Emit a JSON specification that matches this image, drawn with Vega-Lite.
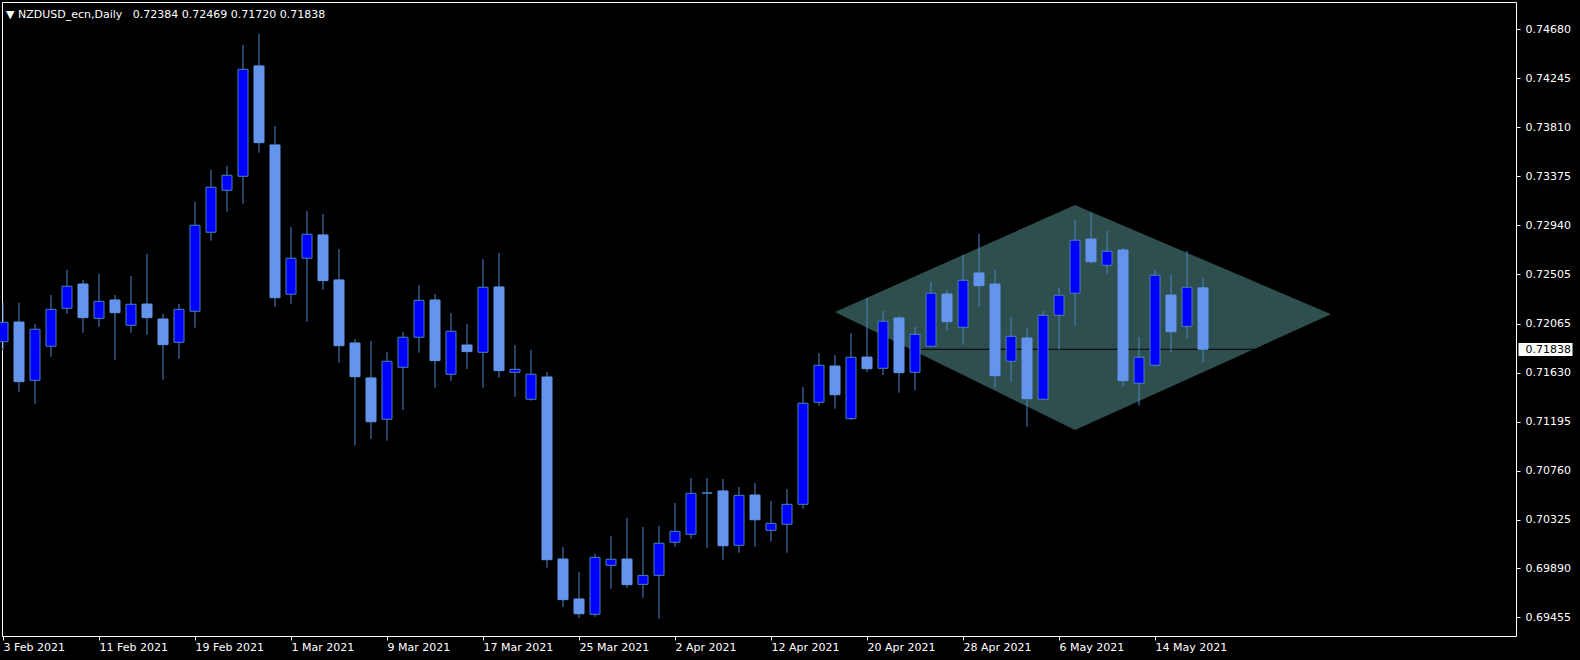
{
  "$schema": "https://vega.github.io/schema/vega-lite/v6.json",
  "width": 1514,
  "height": 634,
  "autosize": {"type": "none"},
  "padding": {"left": 2, "top": 2, "right": 64, "bottom": 24},
  "background": "#000000",
  "title": {
    "text": "▼ NZDUSD_ecn,Daily\u00a0\u00a0 0.72384 0.72469 0.71720 0.71838",
    "anchor": "start",
    "frame": "group",
    "orient": "top",
    "offset": -15,
    "dx": 4,
    "dy": 12,
    "baseline": "alphabetic",
    "color": "#ffffff",
    "font": "DejaVu Sans",
    "fontSize": 11,
    "fontWeight": "normal"
  },
  "config": {
    "view": {"stroke": "#ffffff", "strokeWidth": 1},
    "axis": {"labelFont": "DejaVu Sans", "labelFontSize": 11}
  },
  "resolve": {"scale": {"y": "shared", "x": "shared"}, "axis": {"y": "independent"}},
  "layer": [
    {
      "data": {"values": [
        {"date": "2021-04-16", "top": 0.72169, "bottom": 0.72169},
        {"date": "2021-05-07", "top": 0.73120, "bottom": 0.71121},
        {"date": "2021-05-31", "top": 0.72149, "bottom": 0.72149}
      ]},
      "mark": {"type": "area", "color": "#2f4f4f", "opacity": 1, "interpolate": "linear"},
      "encoding": {
        "x": {"field": "date", "type": "ordinal",
          "scale": {"type": "point", "padding": 0.3125, "align": 0.1, "domain": ["2021-02-03","2021-02-04","2021-02-05","2021-02-08","2021-02-09","2021-02-10","2021-02-11","2021-02-12","2021-02-15","2021-02-16","2021-02-17","2021-02-18","2021-02-19","2021-02-22","2021-02-23","2021-02-24","2021-02-25","2021-02-26","2021-03-01","2021-03-02","2021-03-03","2021-03-04","2021-03-05","2021-03-08","2021-03-09","2021-03-10","2021-03-11","2021-03-12","2021-03-15","2021-03-16","2021-03-17","2021-03-18","2021-03-19","2021-03-22","2021-03-23","2021-03-24","2021-03-25","2021-03-26","2021-03-29","2021-03-30","2021-03-31","2021-04-01","2021-04-02","2021-04-05","2021-04-06","2021-04-07","2021-04-08","2021-04-09","2021-04-12","2021-04-13","2021-04-14","2021-04-15","2021-04-16","2021-04-19","2021-04-20","2021-04-21","2021-04-22","2021-04-23","2021-04-26","2021-04-27","2021-04-28","2021-04-29","2021-04-30","2021-05-03","2021-05-04","2021-05-05","2021-05-06","2021-05-07","2021-05-10","2021-05-11","2021-05-12","2021-05-13","2021-05-14","2021-05-17","2021-05-18","2021-05-19","2021-05-20","2021-05-21","2021-05-24","2021-05-25","2021-05-26","2021-05-27","2021-05-28","2021-05-31","2021-06-01","2021-06-02","2021-06-03","2021-06-04","2021-06-07","2021-06-08","2021-06-09","2021-06-10","2021-06-11","2021-06-14","2021-06-15"]},
          "axis": {"values": ["2021-02-03","2021-02-11","2021-02-19","2021-03-01","2021-03-09","2021-03-17","2021-03-25","2021-04-02","2021-04-12","2021-04-20","2021-04-28","2021-05-06","2021-05-14"],
            "labelExpr": "utcFormat(toDate(datum.value), '%-d %b %Y')",
            "labelAlign": "left", "labelBaseline": "top", "labelPadding": 1, "labelAngle": 0,
            "tickSize": 4, "tickColor": "#ffffff", "labelColor": "#ffffff",
            "labelOverlap": false, "labelBound": false, "labelFlush": false,
            "domain": false, "grid": false, "title": null}
        },
        "y": {"field": "top", "type": "quantitative", "scale": {"domain": [0.6929, 0.74924], "zero": false, "nice": false},
          "axis": {"orient": "right", "values": [0.69455, 0.6989, 0.70325, 0.7076, 0.71195, 0.7163, 0.72065, 0.72505, 0.7294, 0.73375, 0.7381, 0.74245, 0.7468],
            "format": ".5f", "tickSize": 4, "tickColor": "#ffffff", "labelColor": "#ffffff",
            "labelPadding": 5, "labelAlign": "left", "labelBaseline": "middle",
            "labelOverlap": false, "labelBound": false, "labelFlush": false,
            "domain": false, "grid": false, "title": null}
        },
        "y2": {"field": "bottom"}
      }
    },
    {
      "data": {"values": [{"bid": 0.71838}]},
      "mark": {"type": "rule", "color": "#000000", "strokeWidth": 1},
      "encoding": {
        "y": {"field": "bid", "type": "quantitative", "scale": {"domain": [0.6929, 0.74924], "zero": false, "nice": false},
          "axis": {"orient": "right", "values": [0.71838], "format": ".5f", "offset": 2,
            "tickSize": 54, "tickWidth": 13, "tickColor": "#ffffff", "labelColor": "#000000",
            "labelPadding": -47, "labelAlign": "left", "labelBaseline": "middle",
            "labelOverlap": false, "labelBound": false, "labelFlush": false,
            "domain": false, "grid": false, "title": null}
        }
      }
    },
    {
      "data": {"values": [
        {"date":"2021-02-03","open":0.71905,"high":0.72252,"low":0.71838,"close":0.72078},
        {"date":"2021-02-04","open":0.72080,"high":0.72252,"low":0.71461,"close":0.71550},
        {"date":"2021-02-05","open":0.71562,"high":0.72063,"low":0.71354,"close":0.72016},
        {"date":"2021-02-08","open":0.71865,"high":0.72320,"low":0.71772,"close":0.72193},
        {"date":"2021-02-09","open":0.72202,"high":0.72543,"low":0.72152,"close":0.72398},
        {"date":"2021-02-10","open":0.72418,"high":0.72454,"low":0.71985,"close":0.72119},
        {"date":"2021-02-11","open":0.72113,"high":0.72507,"low":0.72039,"close":0.72264},
        {"date":"2021-02-12","open":0.72276,"high":0.72320,"low":0.71743,"close":0.72163},
        {"date":"2021-02-15","open":0.72051,"high":0.72489,"low":0.71985,"close":0.72238},
        {"date":"2021-02-16","open":0.72240,"high":0.72685,"low":0.71968,"close":0.72119},
        {"date":"2021-02-17","open":0.72107,"high":0.72152,"low":0.71568,"close":0.71879},
        {"date":"2021-02-18","open":0.71900,"high":0.72240,"low":0.71754,"close":0.72193},
        {"date":"2021-02-19","open":0.72176,"high":0.73147,"low":0.72030,"close":0.72940},
        {"date":"2021-02-22","open":0.72878,"high":0.73431,"low":0.72803,"close":0.73278},
        {"date":"2021-02-23","open":0.73251,"high":0.73467,"low":0.73061,"close":0.73384},
        {"date":"2021-02-24","open":0.73375,"high":0.74542,"low":0.73132,"close":0.74326},
        {"date":"2021-02-25","open":0.74356,"high":0.74640,"low":0.73585,"close":0.73674},
        {"date":"2021-02-26","open":0.73654,"high":0.73822,"low":0.72216,"close":0.72296},
        {"date":"2021-03-01","open":0.72327,"high":0.72925,"low":0.72243,"close":0.72647},
        {"date":"2021-03-02","open":0.72647,"high":0.73067,"low":0.72083,"close":0.72860},
        {"date":"2021-03-03","open":0.72854,"high":0.73040,"low":0.72368,"close":0.72448},
        {"date":"2021-03-04","open":0.72454,"high":0.72729,"low":0.71719,"close":0.71870},
        {"date":"2021-03-05","open":0.71894,"high":0.71929,"low":0.70981,"close":0.71594},
        {"date":"2021-03-08","open":0.71583,"high":0.71912,"low":0.71041,"close":0.71194},
        {"date":"2021-03-09","open":0.71216,"high":0.71814,"low":0.71026,"close":0.71731},
        {"date":"2021-03-10","open":0.71678,"high":0.71992,"low":0.71298,"close":0.71945},
        {"date":"2021-03-11","open":0.71945,"high":0.72409,"low":0.71808,"close":0.72273},
        {"date":"2021-03-12","open":0.72276,"high":0.72329,"low":0.71497,"close":0.71737},
        {"date":"2021-03-15","open":0.71616,"high":0.72160,"low":0.71556,"close":0.71998},
        {"date":"2021-03-16","open":0.71876,"high":0.72063,"low":0.71663,"close":0.71817},
        {"date":"2021-03-17","open":0.71811,"high":0.72640,"low":0.71497,"close":0.72389},
        {"date":"2021-03-18","open":0.72392,"high":0.72694,"low":0.71585,"close":0.71648},
        {"date":"2021-03-19","open":0.71633,"high":0.71876,"low":0.71417,"close":0.71660},
        {"date":"2021-03-22","open":0.71394,"high":0.71832,"low":0.71381,"close":0.71616},
        {"date":"2021-03-23","open":0.71592,"high":0.71636,"low":0.69897,"close":0.69968},
        {"date":"2021-03-24","open":0.69974,"high":0.70081,"low":0.69550,"close":0.69613},
        {"date":"2021-03-25","open":0.69619,"high":0.69859,"low":0.69450,"close":0.69488},
        {"date":"2021-03-26","open":0.69483,"high":0.70019,"low":0.69461,"close":0.69989},
        {"date":"2021-03-29","open":0.69918,"high":0.70179,"low":0.69710,"close":0.69972},
        {"date":"2021-03-30","open":0.69974,"high":0.70339,"low":0.69719,"close":0.69746},
        {"date":"2021-03-31","open":0.69749,"high":0.70259,"low":0.69630,"close":0.69829},
        {"date":"2021-04-01","open":0.69829,"high":0.70268,"low":0.69444,"close":0.70114},
        {"date":"2021-04-02","open":0.70123,"high":0.70472,"low":0.70084,"close":0.70220},
        {"date":"2021-04-05","open":0.70194,"high":0.70694,"low":0.70155,"close":0.70558},
        {"date":"2021-04-06","open":0.70559,"high":0.70694,"low":0.70075,"close":0.70563},
        {"date":"2021-04-07","open":0.70579,"high":0.70685,"low":0.69968,"close":0.70092},
        {"date":"2021-04-08","open":0.70096,"high":0.70614,"low":0.70030,"close":0.70540},
        {"date":"2021-04-09","open":0.70543,"high":0.70650,"low":0.70084,"close":0.70323},
        {"date":"2021-04-12","open":0.70229,"high":0.70490,"low":0.70128,"close":0.70291},
        {"date":"2021-04-13","open":0.70283,"high":0.70596,"low":0.70030,"close":0.70460},
        {"date":"2021-04-14","open":0.70460,"high":0.71503,"low":0.70421,"close":0.71358},
        {"date":"2021-04-15","open":0.71367,"high":0.71805,"low":0.71337,"close":0.71696},
        {"date":"2021-04-16","open":0.71689,"high":0.71787,"low":0.71310,"close":0.71434},
        {"date":"2021-04-19","open":0.71221,"high":0.71980,"low":0.71210,"close":0.71767},
        {"date":"2021-04-20","open":0.71769,"high":0.72294,"low":0.71636,"close":0.71665},
        {"date":"2021-04-21","open":0.71669,"high":0.72178,"low":0.71609,"close":0.72087},
        {"date":"2021-04-22","open":0.72116,"high":0.72134,"low":0.71452,"close":0.71630},
        {"date":"2021-04-23","open":0.71633,"high":0.72036,"low":0.71476,"close":0.71971},
        {"date":"2021-04-26","open":0.71865,"high":0.72436,"low":0.71860,"close":0.72336},
        {"date":"2021-04-27","open":0.72329,"high":0.72365,"low":0.72003,"close":0.72083},
        {"date":"2021-04-28","open":0.72033,"high":0.72676,"low":0.71879,"close":0.72451},
        {"date":"2021-04-29","open":0.72516,"high":0.72863,"low":0.72216,"close":0.72403},
        {"date":"2021-04-30","open":0.72418,"high":0.72543,"low":0.71497,"close":0.71603},
        {"date":"2021-05-03","open":0.71731,"high":0.72125,"low":0.71550,"close":0.71953},
        {"date":"2021-05-04","open":0.71938,"high":0.72027,"low":0.71150,"close":0.71399},
        {"date":"2021-05-05","open":0.71394,"high":0.72178,"low":0.71390,"close":0.72140},
        {"date":"2021-05-06","open":0.72140,"high":0.72383,"low":0.71834,"close":0.72318},
        {"date":"2021-05-07","open":0.72336,"high":0.72987,"low":0.72048,"close":0.72807},
        {"date":"2021-05-10","open":0.72818,"high":0.73052,"low":0.72599,"close":0.72616},
        {"date":"2021-05-11","open":0.72584,"high":0.72889,"low":0.72510,"close":0.72709},
        {"date":"2021-05-12","open":0.72720,"high":0.72738,"low":0.71506,"close":0.71559},
        {"date":"2021-05-13","open":0.71536,"high":0.71947,"low":0.71337,"close":0.71767},
        {"date":"2021-05-14","open":0.71696,"high":0.72543,"low":0.71683,"close":0.72496},
        {"date":"2021-05-17","open":0.72320,"high":0.72498,"low":0.71808,"close":0.71994},
        {"date":"2021-05-18","open":0.72042,"high":0.72711,"low":0.71932,"close":0.72389},
        {"date":"2021-05-19","open":0.72384,"high":0.72469,"low":0.71720,"close":0.71838}
      ]},
      "encoding": {
        "x": {"field": "date", "type": "ordinal",
          "scale": {"type": "point", "padding": 0.3125, "align": 0.1, "domain": ["2021-02-03","2021-02-04","2021-02-05","2021-02-08","2021-02-09","2021-02-10","2021-02-11","2021-02-12","2021-02-15","2021-02-16","2021-02-17","2021-02-18","2021-02-19","2021-02-22","2021-02-23","2021-02-24","2021-02-25","2021-02-26","2021-03-01","2021-03-02","2021-03-03","2021-03-04","2021-03-05","2021-03-08","2021-03-09","2021-03-10","2021-03-11","2021-03-12","2021-03-15","2021-03-16","2021-03-17","2021-03-18","2021-03-19","2021-03-22","2021-03-23","2021-03-24","2021-03-25","2021-03-26","2021-03-29","2021-03-30","2021-03-31","2021-04-01","2021-04-02","2021-04-05","2021-04-06","2021-04-07","2021-04-08","2021-04-09","2021-04-12","2021-04-13","2021-04-14","2021-04-15","2021-04-16","2021-04-19","2021-04-20","2021-04-21","2021-04-22","2021-04-23","2021-04-26","2021-04-27","2021-04-28","2021-04-29","2021-04-30","2021-05-03","2021-05-04","2021-05-05","2021-05-06","2021-05-07","2021-05-10","2021-05-11","2021-05-12","2021-05-13","2021-05-14","2021-05-17","2021-05-18","2021-05-19","2021-05-20","2021-05-21","2021-05-24","2021-05-25","2021-05-26","2021-05-27","2021-05-28","2021-05-31","2021-06-01","2021-06-02","2021-06-03","2021-06-04","2021-06-07","2021-06-08","2021-06-09","2021-06-10","2021-06-11","2021-06-14","2021-06-15"]},
          "axis": {"values": ["2021-02-03","2021-02-11","2021-02-19","2021-03-01","2021-03-09","2021-03-17","2021-03-25","2021-04-02","2021-04-12","2021-04-20","2021-04-28","2021-05-06","2021-05-14"],
            "labelExpr": "utcFormat(toDate(datum.value), '%-d %b %Y')",
            "labelAlign": "left", "labelBaseline": "top", "labelPadding": 1, "labelAngle": 0,
            "tickSize": 4, "tickColor": "#ffffff", "labelColor": "#ffffff",
            "labelOverlap": false, "labelBound": false, "labelFlush": false,
            "domain": false, "grid": false, "title": null}
        }
      },
      "layer": [
        {
          "mark": {"type": "rule", "color": "#4a86c8", "strokeWidth": 1},
          "encoding": {
            "y": {"field": "low", "type": "quantitative", "scale": {"domain": [0.6929, 0.74924], "zero": false, "nice": false}, "axis": null},
            "y2": {"field": "high"}
          }
        },
        {
          "mark": {"type": "bar", "width": 10, "strokeWidth": 1},
          "encoding": {
            "y": {"field": "open", "type": "quantitative", "scale": {"domain": [0.6929, 0.74924], "zero": false, "nice": false}, "axis": null},
            "y2": {"field": "close"},
            "fill": {"condition": {"test": "datum.close > datum.open", "value": "#0000ff"}, "value": "#6495ed"},
            "stroke": {"condition": {"test": "datum.close > datum.open", "value": "#4682b4"}, "value": "#6495ed"}
          }
        }
      ]
    }
  ]
}
